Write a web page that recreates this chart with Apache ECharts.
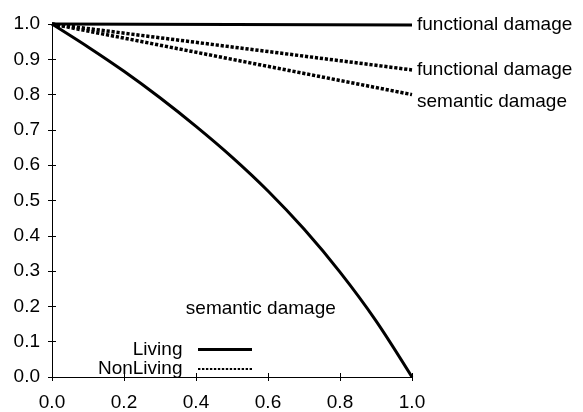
<!DOCTYPE html>
<html>
<head>
<meta charset="utf-8">
<script src="https://cdn.jsdelivr.net/npm/echarts@6/dist/echarts.min.js"></script>
<style>html,body{margin:0;padding:0;background:#fff}#c{width:583px;height:412px}</style>
</head>
<body>
<div id="c"></div>
<script>
// ---- data ----
const semanticX = [0, 0.1, 0.2, 0.3, 0.4, 0.5, 0.6, 0.7, 0.8, 0.9, 1.0];
const livingSemantic = [1.0, 0.935, 0.866, 0.791, 0.71, 0.623, 0.527, 0.419, 0.297, 0.159, 0.0];
const lineX = [0, 1];
const livingFunctional = [1.0, 0.997];
const nonLivingFunctional = [1.0, 0.87];
const nonLivingSemantic = [1.0, 0.80];
const seriesNames = ['Living', 'NonLiving'];
const curveLabels = ['functional damage', 'semantic damage'];
const semanticLabelAt = [0.58, 0.193];
const xTickInterval = 0.2;
const yTickInterval = 0.1;

const FONT = "'Liberation Sans', Arial, Helvetica, sans-serif";
const FS = 19;
function pairs(xs, ys) { return xs.map((x, i) => [x, ys[i]]); }

// legend icon shapes (style only)
const solidIcon = 'path://M0,0h54v3h-54z';
let dotted = '';
for (let x = 0; x < 54; x += 4) dotted += 'M' + x + ',0.5h2.4v2h-2.4z';
const dottedIcon = 'path://M0,0h0.01v3h-0.01z' + dotted + 'M53.99,0h0.01v3h-0.01z';

const chart = echarts.init(document.getElementById('c'), null, {renderer: 'canvas'});
const fmt = v => v.toFixed(1);
const axisBase = {type: 'value', min: 0, max: 1, splitLine: {show: false}};
chart.setOption({
  animation: false,
  backgroundColor: '#fff',
  textStyle: {fontFamily: FONT, color: '#000'},
  grid: {left: 52, right: 171, top: 24, bottom: 29},
  xAxis: [
    Object.assign({}, axisBase, {
      position: 'bottom', interval: xTickInterval,
      axisLine: {show: true, onZero: false, lineStyle: {color: '#000', width: 1}},
      axisTick: {show: true, inside: true, length: 4, lineStyle: {color: '#000'}},
      axisLabel: {show: true, margin: 16, color: '#000', fontSize: FS, fontFamily: FONT, formatter: fmt}
    }),
    Object.assign({}, axisBase, {
      position: 'top', interval: xTickInterval,
      axisLine: {show: false},
      axisTick: {show: true, inside: true, length: 4, lineStyle: {color: '#000'}},
      axisLabel: {show: false}
    })
  ],
  yAxis: [
    Object.assign({}, axisBase, {
      position: 'left', interval: yTickInterval,
      axisLine: {show: true, onZero: false, lineStyle: {color: '#000', width: 1}},
      axisTick: {show: true, inside: true, length: 4, lineStyle: {color: '#000'}},
      axisLabel: {show: true, margin: 12, color: '#000', fontSize: FS, fontFamily: FONT, formatter: fmt}
    }),
    Object.assign({}, axisBase, {
      position: 'right', interval: yTickInterval,
      axisLine: {show: false},
      axisTick: {show: true, inside: true, length: 4, lineStyle: {color: '#000'}},
      axisLabel: {show: false}
    })
  ],
  legend: {
    orient: 'vertical',
    align: 'right',
    right: 331,
    top: 340,
    padding: 0,
    itemGap: 0.5,
    itemWidth: 54,
    itemHeight: 3,
    selectedMode: false,
    formatter: n => n + '  ',
    textStyle: {fontSize: FS, fontFamily: FONT, color: '#000'},
    itemStyle: {color: '#000', borderWidth: 0},
    data: [
      {name: seriesNames[0], icon: solidIcon},
      {name: seriesNames[1], icon: dottedIcon}
    ]
  },
  series: [
    {
      name: seriesNames[0], type: 'line',
      data: pairs(lineX, livingFunctional), symbol: 'none', clip: false,
      lineStyle: {color: '#000', width: 3, type: 'solid'},
      itemStyle: {color: '#000'},
      endLabel: {show: true, formatter: curveLabels[0], distance: 5, color: '#000', fontSize: FS, fontFamily: FONT}
    },
    {
      name: seriesNames[0], type: 'line',
      data: pairs(semanticX, livingSemantic), symbol: 'none', clip: false,
      smooth: 0.3,
      lineStyle: {color: '#000', width: 3, type: 'solid'},
      itemStyle: {color: '#000'},
      markPoint: {
        symbol: 'circle', symbolSize: 0, silent: true,
        label: {show: true, position: 'inside', formatter: curveLabels[1], color: '#000', fontSize: FS, fontFamily: FONT},
        data: [{coord: semanticLabelAt}]
      }
    },
    {
      name: seriesNames[1], type: 'line',
      data: pairs(lineX, nonLivingFunctional), symbol: 'none', clip: false,
      lineStyle: {color: '#000', width: 3.5, type: [3.2, 1.8]},
      itemStyle: {color: '#000'},
      endLabel: {show: true, formatter: curveLabels[0], distance: 5, color: '#000', fontSize: FS, fontFamily: FONT}
    },
    {
      name: seriesNames[1], type: 'line',
      data: pairs(lineX, nonLivingSemantic), symbol: 'none', clip: false,
      lineStyle: {color: '#000', width: 3.5, type: [3.2, 1.8]},
      itemStyle: {color: '#000'},
      endLabel: {show: true, formatter: curveLabels[1], distance: 5, offset: [0, 7], color: '#000', fontSize: FS, fontFamily: FONT}
    }
  ]
});
</script>
</body>
</html>
